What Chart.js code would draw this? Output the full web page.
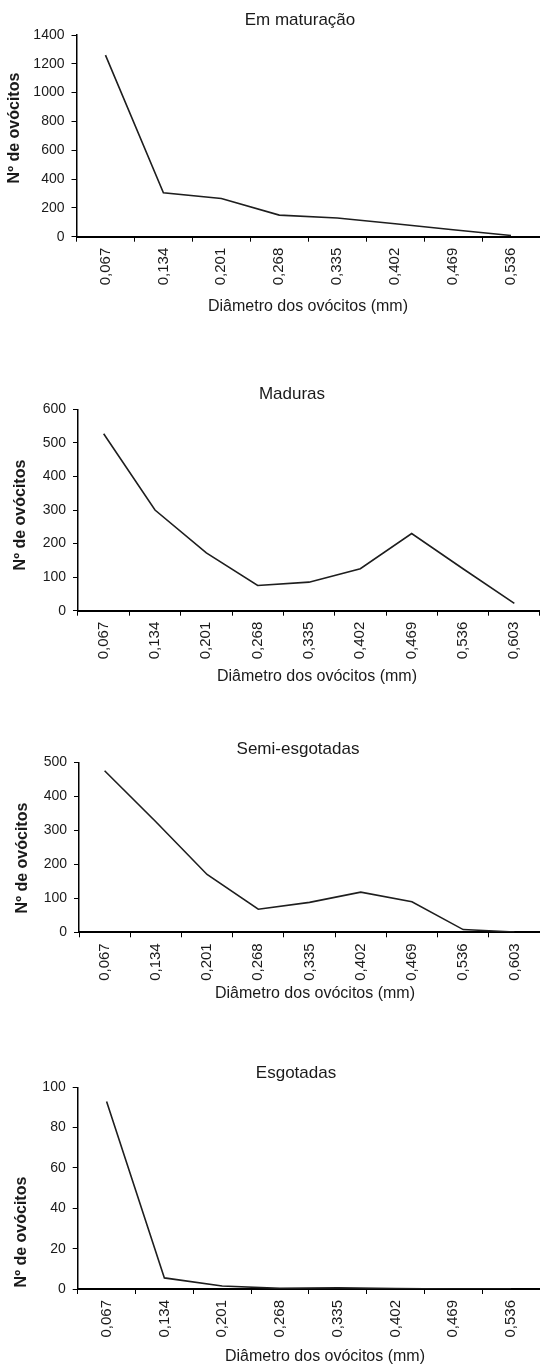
<!DOCTYPE html>
<html lang="pt">
<head>
<meta charset="utf-8">
<title>Diâmetro dos ovócitos por estádio</title>
<script src="https://cdn.jsdelivr.net/npm/chart.js@4.4.1/dist/chart.umd.min.js"></script>
<style>
  html, body { margin: 0; padding: 0; background: #fff; }
  body { width: 540px; height: 1369px; position: relative; overflow: hidden; }
  .panel { position: absolute; left: 0; width: 540px; }
</style>
</head>
<body>
<div class="panel" style="top:0px;height:319px"><canvas id="c1"></canvas></div>
<div class="panel" style="top:374px;height:315px"><canvas id="c2"></canvas></div>
<div class="panel" style="top:729px;height:277px"><canvas id="c3"></canvas></div>
<div class="panel" style="top:1053px;height:316px"><canvas id="c4"></canvas></div>
<script>
// Classes de diâmetro (mm)
const classes8 = ['0,067', '0,134', '0,201', '0,268', '0,335', '0,402', '0,469', '0,536'];
const classes9 = ['0,067', '0,134', '0,201', '0,268', '0,335', '0,402', '0,469', '0,536', '0,603'];

// Nº de ovócitos por classe, em cada estádio
const emMaturacao   = [1260, 305, 265, 150, 130, 90, 48, 8];
const maduras       = [527, 300, 172, 75, 85, 125, 230, 125, 22];
const semiEsgotadas = [475, 325, 170, 68, 88, 118, 90, 8, 1];
const esgotadas     = [93, 5.5, 1.5, 0.3, 0.6, 0.2, 0, 0];

// Títulos
const titulos = ['Em maturação', 'Maduras', 'Semi-esgotadas', 'Esgotadas'];
const tituloY = 'Nº de ovócitos';
const tituloX = 'Diâmetro dos ovócitos (mm)';

const FAMILY = '"Liberation Sans", Arial, sans-serif';
const INK = '#1a1a1a';
Chart.defaults.font.family = FAMILY;
Chart.defaults.color = INK;

// Panel title, y-axis title (rotated) and x-axis title, each at its own centre
const panelText = {
  id: 'panelText',
  afterDraw(chart, args, o) {
    const ctx = chart.ctx;
    ctx.save();
    ctx.fillStyle = INK;
    ctx.textAlign = 'center';
    ctx.textBaseline = 'middle';

    ctx.font = '17px ' + FAMILY;
    ctx.fillText(o.title, o.titleX, o.titleY);

    ctx.font = '16px ' + FAMILY;
    ctx.fillText(o.xTitle, o.xTitleX, o.xTitleY);

    ctx.translate(o.yTitleX, o.yTitleY);
    ctx.rotate(-Math.PI / 2);
    ctx.font = 'bold 16px ' + FAMILY;
    ctx.fillText(o.yTitle, 0, 0);
    ctx.restore();
  }
};

function makeChart(id, labels, values, title, yMax, yStep, g) {
  return new Chart(document.getElementById(id), {
    type: 'line',
    data: {
      labels: labels,
      datasets: [{
        data: values,
        borderColor: '#1e1e1e',
        borderWidth: 1.6,
        pointRadius: 0,
        tension: 0,
        fill: false
      }]
    },
    options: {
      responsive: true,
      maintainAspectRatio: false,
      animation: false,
      devicePixelRatio: 1,
      layout: { padding: { left: 0, right: 0, top: g.top, bottom: 0 } },
      plugins: {
        legend: { display: false },
        tooltip: { enabled: false },
        title: { display: false },
        panelText: {
          title: title, titleX: g.titleX, titleY: 20,
          yTitle: tituloY, yTitleX: g.yTitleX, yTitleY: g.yTitleY,
          xTitle: tituloX, xTitleX: g.xTitleX, xTitleY: g.xTitleY
        }
      },
      scales: {
        x: {
          offset: true,
          grid: { display: true, offset: true, drawOnChartArea: false, drawTicks: true, tickLength: 5, color: '#000', lineWidth: 1 },
          border: { display: true, color: '#000', width: 2 },
          ticks: { autoSkip: false, minRotation: 90, maxRotation: 90, padding: 6, color: INK, font: { size: 15 } },
          afterFit: (s) => { s.height = g.xHeight; }
        },
        y: {
          min: 0,
          max: yMax,
          grid: { display: true, drawOnChartArea: false, drawTicks: true, tickLength: 5, color: '#000', lineWidth: 1 },
          border: { display: true, color: '#000', width: 1.5 },
          ticks: { stepSize: yStep, padding: 7, color: INK, font: { size: 14 }, callback: (v) => String(v) },
          afterFit: (s) => { s.width = g.yWidth; }
        }
      }
    },
    plugins: [panelText]
  });
}

makeChart('c1', classes8, emMaturacao, titulos[0], 1400, 200,
  { top: 35, xHeight: 82.3, yWidth: 76.5, titleX: 300, yTitleX: 15, yTitleY: 128, xTitleX: 308, xTitleY: 307 });
makeChart('c2', classes9, maduras, titulos[1], 600, 100,
  { top: 35.3, xHeight: 78.3, yWidth: 78, titleX: 292, yTitleX: 21, yTitleY: 141, xTitleX: 317, xTitleY: 303 });
makeChart('c3', classes9, semiEsgotadas, titulos[2], 500, 100,
  { top: 33.3, xHeight: 73.7, yWidth: 79, titleX: 298, yTitleX: 22.5, yTitleY: 129, xTitleX: 315, xTitleY: 265 });
makeChart('c4', classes8, esgotadas, titulos[3], 100, 20,
  { top: 34.3, xHeight: 80, yWidth: 77.7, titleX: 296, yTitleX: 21.5, yTitleY: 179, xTitleX: 325, xTitleY: 304 });
</script>
</body>
</html>
